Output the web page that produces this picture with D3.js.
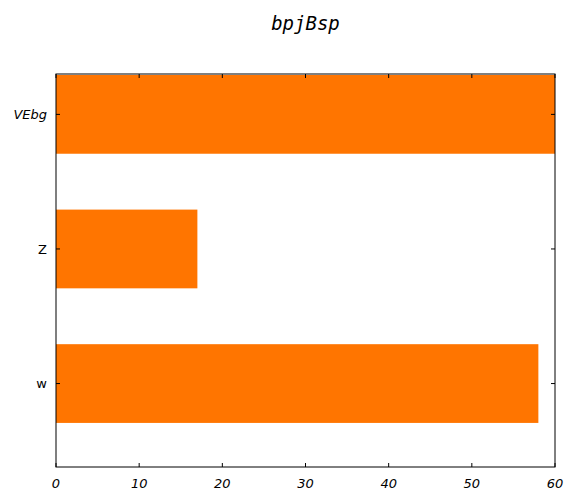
<!DOCTYPE html>
<html><head><meta charset="utf-8">
<script src="https://cdn.jsdelivr.net/npm/d3@7"></script>
<style>body{margin:0;background:#fff}</style></head>
<body><svg id="c" width="576" height="504"></svg>
<script>
const categories = ["w", "Z", "VEbg"];
const values = [58, 17, 60];
const xTicks = [0, 10, 20, 30, 40, 50, 60];
const title = "bpjBsp";

const svg = d3.select("#c");
const L = 56, R = 555, T = 74, B = 467;
const x = d3.scaleLinear().domain([0, 60]).range([L, R]);
const y = d3.scaleLinear().domain([-0.62, 2.3]).range([B, T]);
const h = 0.585;

svg.selectAll("rect.bar").data(values).enter().append("rect")
  .attr("x", x(0)).attr("width", d => x(d) - x(0))
  .attr("y", (d, i) => y(i + h / 2)).attr("height", (d, i) => y(i - h / 2) - y(i + h / 2))
  .attr("fill", "#ff7500");

svg.append("rect").attr("x", L).attr("y", T).attr("width", R - L).attr("height", B - T)
  .attr("fill", "none").attr("stroke", "#000").attr("stroke-width", 1);

const g = svg.append("g").attr("font-family", "DejaVu Sans").attr("font-size", 13);
xTicks.forEach(t => {
  g.append("line").attr("x1", x(t)).attr("x2", x(t)).attr("y1", B).attr("y2", B - 4).attr("stroke", "#000");
  g.append("line").attr("x1", x(t)).attr("x2", x(t)).attr("y1", T).attr("y2", T + 4).attr("stroke", "#000");
  g.append("text").attr("x", x(t)).attr("y", B + 21).attr("text-anchor", "middle")
    .attr("font-style", "italic").text(t);
});
categories.forEach((c, i) => {
  g.append("line").attr("x1", L).attr("x2", L + 4).attr("y1", y(i)).attr("y2", y(i)).attr("stroke", "#000");
  g.append("line").attr("x1", R).attr("x2", R - 4).attr("y1", y(i)).attr("y2", y(i)).attr("stroke", "#000");
  g.append("text").attr("x", L - 9).attr("y", y(i)).attr("dy", "0.35em").attr("text-anchor", "end")
    .attr("font-style", c === "VEbg" ? "italic" : "normal").text(c);
});
svg.append("text").attr("x", (L + R) / 2 + 0).attr("y", 30).attr("text-anchor", "middle")
  .attr("font-family", "DejaVu Sans Mono").attr("font-style", "italic").attr("font-size", 19).text(title);
</script></body></html>
